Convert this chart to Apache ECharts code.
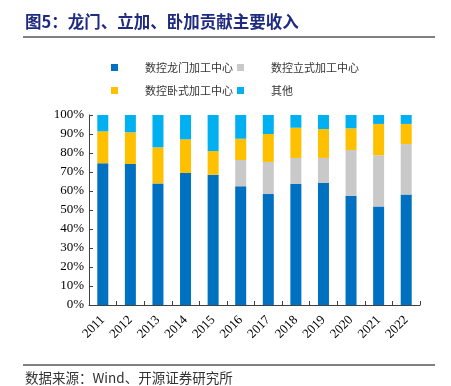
<!DOCTYPE html>
<html><head><meta charset="utf-8">
<script src="https://cdn.jsdelivr.net/npm/echarts@6/dist/echarts.min.js"></script>
<style>html,body{margin:0;padding:0;background:#fff}#c{width:451px;height:386px}</style>
</head><body><div id="c"></div>
<script>
const years = ['2011','2012','2013','2014','2015','2016','2017','2018','2019','2020','2021','2022'];
const gantry = [74.6,74.2,64.0,69.5,68.6,62.5,58.4,63.7,64.2,57.5,51.9,58.1];
const vertical = [0,0,0,0,0,13.8,16.9,13.7,13.2,24.1,26.9,26.6];
const horizontal = [16.8,16.7,19.0,17.7,12.4,11.2,14.7,15.9,15.2,11.4,16.5,10.6];
const other = [8.6,9.1,17.0,12.8,19.0,12.5,10.0,6.7,7.4,7.0,4.7,4.7];
const names = ['数控龙门加工中心','数控立式加工中心','数控卧式加工中心','其他'];
const colors = ['#0070C0','#C9C9C9','#FFC000','#00B0F0'];
const yTicks = [0,10,20,30,40,50,60,70,80,90,100];

const chart = echarts.init(document.getElementById('c'));
const serif = '"Liberation Serif","Times New Roman",serif';
const cjk = '"Noto Sans CJK SC",sans-serif';
const legendPos = [[106,57],[232,57],[106,80],[232,80]];
chart.setOption({
  animation:false,
  color:colors,
  legend: names.map((n,i)=>({
    data:[n], left:legendPos[i][0], top:legendPos[i][1], itemWidth:7, itemHeight:7, icon:'rect',
    textStyle:{fontFamily:cjk,fontSize:11,color:'#333',padding:[0,0,0,22]}
  })),
  grid:{left:89,right:31,top:115,bottom:81},
  xAxis:{type:'category',data:years,
    axisLine:{lineStyle:{color:'#404040'}},
    axisTick:{show:true,inside:true,length:4,lineStyle:{color:'#404040'}},
    axisLabel:{rotate:45,fontFamily:serif,fontSize:13,color:'#000',margin:13}
  },
  yAxis:{type:'value',min:0,max:100,interval:10,
    axisLine:{show:true,lineStyle:{color:'#404040'}},
    axisTick:{show:true,inside:true,length:4,lineStyle:{color:'#404040'}},
    splitLine:{show:false},
    axisLabel:{formatter:v=>yTicks.includes(v)?v+'%':'',fontFamily:serif,fontSize:13,color:'#000',margin:5}
  },
  series:[gantry,vertical,horizontal,other].map((d,i)=>({
    name:names[i],type:'bar',stack:'s',barWidth:11,data:d,
    itemStyle:{color:colors[i]}
  })),
  graphic:[
    {type:'text',left:25,top:13,style:{text:'图5：龙门、立加、卧加贡献主要收入',font:'bold 16.5px "Noto Sans CJK SC"',fill:'#1F2B80'}},
    {type:'line',shape:{x1:23,y1:37,x2:435,y2:37},style:{stroke:'#000',lineWidth:1}},
    {type:'line',shape:{x1:23,y1:365,x2:435,y2:365},style:{stroke:'#000',lineWidth:1}},
    {type:'text',left:25,top:371,style:{text:'数据来源：Wind、开源证券研究所',font:'13.5px "Noto Sans CJK SC"',fill:'#333'}}
  ]
});
</script></body></html>
